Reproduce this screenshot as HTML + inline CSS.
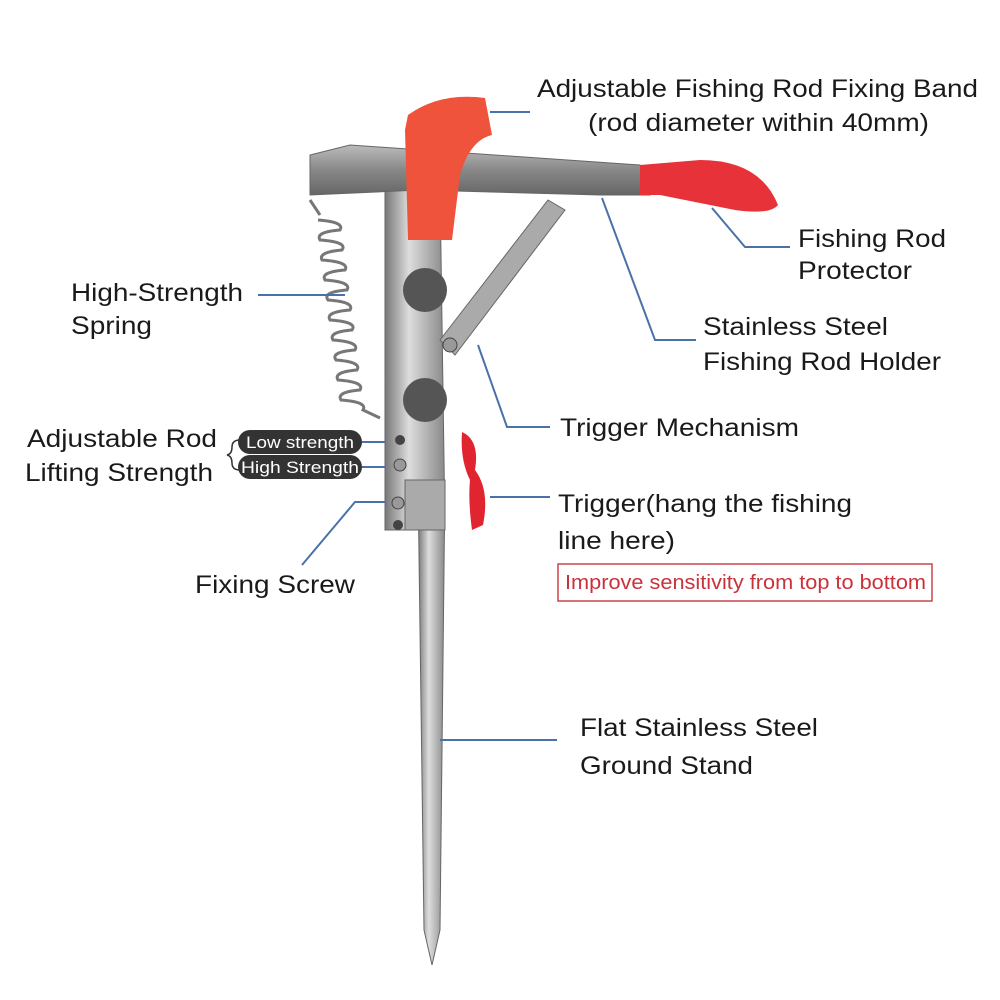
<!DOCTYPE html>
<html><head><style>
body{margin:0;background:#fff;}
svg{display:block}
text{font-family:"Liberation Sans",sans-serif;fill:#1a1a1a;}
</style></head><body>
<svg width="1000" height="1000" viewBox="0 0 1000 1000" xmlns="http://www.w3.org/2000/svg">
<defs>
<linearGradient id="m" x1="0" y1="0" x2="1" y2="0">
<stop offset="0" stop-color="#777"/><stop offset="0.4" stop-color="#ddd"/><stop offset="1" stop-color="#888"/></linearGradient>
<linearGradient id="h" x1="0" y1="0" x2="0" y2="1">
<stop offset="0" stop-color="#bbb"/><stop offset="0.5" stop-color="#888"/><stop offset="1" stop-color="#666"/></linearGradient>
</defs>
<polygon points="418,480 445,480 440,930 432,965 424,930" fill="url(#m)" stroke="#666"/>
<g stroke="#777" stroke-width="3" fill="none">
<path d="M310,200 L320,215"/>
<path d="M318,220 Q345,222 340,230 Q315,232 320,240 Q348,242 342,250 Q318,252 322,260 Q350,262 345,270 Q320,272 325,280 Q352,282 347,290 Q322,292 328,300 Q355,302 350,310 Q325,312 330,320 Q358,322 352,330 Q328,332 333,340 Q360,342 355,350 Q330,352 336,360 Q362,362 357,370 Q333,372 338,380 Q365,382 360,390 Q336,392 341,400 Q368,402 363,410 L380,418"/>
</g>
<polygon points="385,185 440,185 445,530 385,530" fill="url(#m)" stroke="#666"/>
<rect x="405" y="480" width="40" height="50" fill="#aaa" stroke="#666"/>
<circle cx="425" cy="290" r="22" fill="#555"/><circle cx="425" cy="400" r="22" fill="#555"/>
<circle cx="400" cy="440" r="5" fill="#444"/><circle cx="400" cy="465" r="6" fill="#999" stroke="#444"/>
<circle cx="398" cy="503" r="6" fill="#999" stroke="#444"/><circle cx="398" cy="525" r="5" fill="#444"/>
<polygon points="310,155 350,145 640,165 650,195 600,195 420,190 310,195" fill="url(#h)" stroke="#666"/>
<polygon points="440,340 548,200 565,210 455,355" fill="#aaa" stroke="#666"/>
<circle cx="450" cy="345" r="7" fill="#999" stroke="#444"/>
<path d="M640,165 L700,160 Q760,160 778,205 Q770,215 735,210 L660,195 L640,195 Z" fill="#e8323a"/>
<path d="M408,115 Q440,92 485,98 L492,135 Q470,140 460,175 L452,240 L408,240 L405,130 Z" fill="#f0533b"/>
<path d="M462,432 Q480,440 475,470 Q490,490 483,525 L472,530 Q468,500 470,480 Q460,460 462,432 Z" fill="#e02530"/>
<g stroke="#4a72a8" stroke-width="2" fill="none">
<path d="M530,112 L490,112"/>
<path d="M790,247 L745,247 L712,208"/>
<path d="M258,295 L345,295"/>
<path d="M696,340 L655,340 L602,198"/>
<path d="M550,427 L507,427 L478,345"/>
<path d="M550,497 L490,497"/>
<path d="M302,565 L355,502 L385,502"/>
<path d="M557,740 L440,740"/>
<path d="M362,442 L385,442"/><path d="M362,467 L385,467"/>
</g>
<path d="M240,440 Q232,440 232,447 Q232,454 227,455 Q232,456 232,463 Q232,470 240,470" stroke="#333" fill="none" stroke-width="1.5"/>
<rect x="238" y="430" width="124" height="24" rx="12" fill="#333"/>
<rect x="238" y="455" width="124" height="24" rx="12" fill="#333"/>
<text x="246" y="448" font-size="17" textLength="108" lengthAdjust="spacingAndGlyphs" style="fill:#fff">Low strength</text>
<text x="241" y="473" font-size="17" textLength="118" lengthAdjust="spacingAndGlyphs" style="fill:#fff">High Strength</text>
<g font-size="25">
<text x="537" y="97" textLength="441" lengthAdjust="spacingAndGlyphs">Adjustable Fishing Rod Fixing Band</text>
<text x="588" y="131" textLength="341" lengthAdjust="spacingAndGlyphs">(rod diameter within 40mm)</text>
<text x="798" y="247" textLength="148" lengthAdjust="spacingAndGlyphs">Fishing Rod</text>
<text x="798" y="279" textLength="114" lengthAdjust="spacingAndGlyphs">Protector</text>
<text x="71" y="301" textLength="172" lengthAdjust="spacingAndGlyphs">High-Strength</text>
<text x="71" y="334" textLength="81" lengthAdjust="spacingAndGlyphs">Spring</text>
<text x="703" y="335" textLength="185" lengthAdjust="spacingAndGlyphs">Stainless Steel</text>
<text x="703" y="370" textLength="238" lengthAdjust="spacingAndGlyphs">Fishing Rod Holder</text>
<text x="560" y="436" textLength="239" lengthAdjust="spacingAndGlyphs">Trigger Mechanism</text>
<text x="27" y="447" textLength="190" lengthAdjust="spacingAndGlyphs">Adjustable Rod</text>
<text x="25" y="481" textLength="188" lengthAdjust="spacingAndGlyphs">Lifting Strength</text>
<text x="558" y="512" textLength="294" lengthAdjust="spacingAndGlyphs">Trigger(hang the fishing</text>
<text x="558" y="549" textLength="117" lengthAdjust="spacingAndGlyphs">line here)</text>
<text x="195" y="593" textLength="160" lengthAdjust="spacingAndGlyphs">Fixing Screw</text>
<text x="580" y="736" textLength="238" lengthAdjust="spacingAndGlyphs">Flat Stainless Steel</text>
<text x="580" y="774" textLength="173" lengthAdjust="spacingAndGlyphs">Ground Stand</text>
</g>
<rect x="558" y="564" width="374" height="37" fill="none" stroke="#c9464c" stroke-width="1.5"/>
<text x="565" y="589" font-size="20" textLength="361" lengthAdjust="spacingAndGlyphs" style="fill:#c9323a">Improve sensitivity from top to bottom</text>
</svg>
</body></html>
